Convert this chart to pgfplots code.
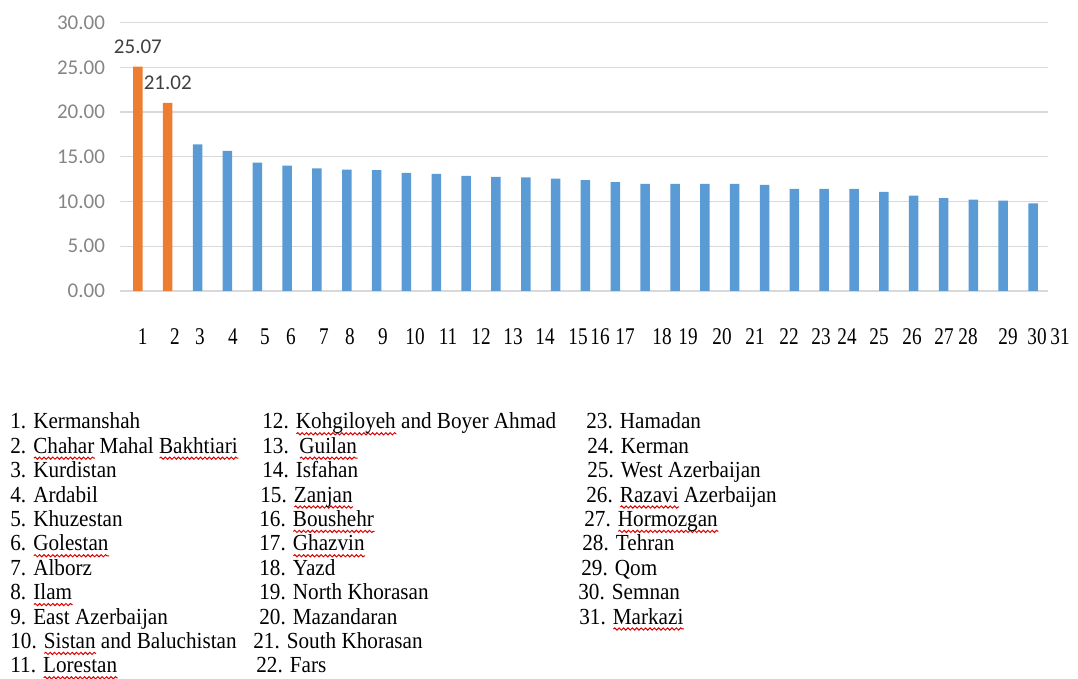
\documentclass[border=0pt]{standalone}
\usepackage{fontspec}
\setmainfont{Liberation Serif}[FakeStretch=0.92]
\newfontfamily\ticknum{Liberation Serif}[FakeStretch=0.8]
\newfontfamily\calib{Carlito}
\usepackage{pgfplots}
\pgfplotsset{compat=1.18}
\usetikzlibrary{decorations.pathmorphing}
\definecolor{xlblue}{HTML}{5B9BD5}
\definecolor{xlorange}{HTML}{ED7D31}
\definecolor{gridc}{HTML}{D9D9D9}
\newlength\rwl
\newcommand\rw[1]{\settowidth\rwl{#1}\rlap{\tikz[baseline=0pt]{\draw[red!85!black, line width=0.5pt, decorate, decoration={snake, amplitude=0.55pt, segment length=2.2pt}] (0,-2.4pt) -- (\rwl,-2.4pt);}}#1}
\newcommand\leg[3]{\node[anchor=base west,inner sep=0pt,font=\fontsize{11.5}{13}\selectfont] at ({#1*0.5pt},{339.5pt-(429+24.4*(#2-1))*0.5pt}) {#3};}
\begin{document}
\begin{tikzpicture}
\path[use as bounding box] (0,0) rectangle (539pt,339.5pt);
\begin{axis}[
  at={(60pt,194pt)}, anchor=south west,
  scale only axis, width=464pt, height=134.2pt,
  xmin=0.4, xmax=31.5, ymin=0, ymax=30,
  enlargelimits=false, clip=false,
  axis line style={draw=none},
  major tick length=0pt,
  ymajorgrids, grid style={gridc, line width=0.6pt},
  ytick={0,5,...,30},
  /pgf/number format/assume math mode=true,
  yticklabel style={font=\calib\fontsize{10.5}{12}\selectfont, color=black!48, xshift=-4pt,
    /pgf/number format/.cd, fixed, fixed zerofill, precision=2},
  xtick=\empty,
  ybar, bar width=4.75pt, bar shift=0pt,
]
\addplot[fill=xlorange, draw=none,
  nodes near coords,
  every node near coord/.append style={font=\calib\fontsize{10.5}{12}\selectfont, color=black!75, yshift=3pt,
    /pgf/number format/.cd, fixed, fixed zerofill, precision=2}]
  coordinates {(1,25.07) (2,21.02)};
\addplot[fill=xlblue, draw=none] coordinates {
  (3,16.40) (4,15.65) (5,14.35) (6,14.00) (7,13.70) (8,13.57) (9,13.50)
  (10,13.20) (11,13.10) (12,12.86) (13,12.75) (14,12.70) (15,12.56)
  (16,12.38) (17,12.16) (18,11.97) (19,11.97) (20,11.97) (21,11.97)
  (22,11.86) (23,11.40) (24,11.40) (25,11.40) (26,11.07) (27,10.66)
  (28,10.37) (29,10.20) (30,10.10) (31,9.80)};
\end{axis}
% category numbers below the bars, as placed in the reference
\foreach \px/\lab in {142.7/1,175/2,200/3,233/4,265/5,291/6,324/7,350/8,383/9,415/10,
  448/11,481/12,513/13,545/14,578/15,600/16,625/17,662/18,688/19,722/20,755/21,789/22,
  821/23,847/24,879/25,912/26,944/27,968/28,1008/29,1037/30,1060/31}
  \node[inner sep=0pt,font=\ticknum\fontsize{12}{14}\selectfont] at ({\px*0.5pt},{339.5pt-337*0.5pt}) {\lab};
\leg{10}{1}{1. Kermanshah}
\leg{10}{2}{2. \rw{Chahar} Mahal \rw{Bakhtiari}}
\leg{10}{3}{3. Kurdistan}
\leg{10}{4}{4. Ardabil}
\leg{10}{5}{5. Khuzestan}
\leg{10}{6}{6. \rw{Golestan}}
\leg{10}{7}{7. Alborz}
\leg{10}{8}{8. \rw{Ilam}}
\leg{10}{9}{9. East Azerbaijan}
\leg{10}{10}{10. \rw{Sistan} and Baluchistan}
\leg{10}{11}{11. \rw{Lorestan}}
\leg{262}{1}{12. \rw{Kohgiloyeh} and Boyer Ahmad}
\leg{262}{2}{13.\ \ \rw{Guilan}}
\leg{262}{3}{14. Isfahan}
\leg{260}{4}{15. \rw{Zanjan}}
\leg{259}{5}{16. \rw{Boushehr}}
\leg{259}{6}{17. \rw{Ghazvin}}
\leg{259}{7}{18. Yazd}
\leg{259}{8}{19. North Khorasan}
\leg{259}{9}{20. Mazandaran}
\leg{253}{10}{21. South Khorasan}
\leg{256}{11}{22. Fars}
\leg{586}{1}{23. Hamadan}
\leg{587}{2}{24. Kerman}
\leg{587}{3}{25. West Azerbaijan}
\leg{586}{4}{26. \rw{Razavi} Azerbaijan}
\leg{584}{5}{27. \rw{Hormozgan}}
\leg{582}{6}{28. Tehran}
\leg{581}{7}{29. Qom}
\leg{578}{8}{30. Semnan}
\leg{579}{9}{31. \rw{Markazi}}
\end{tikzpicture}
\end{document}
